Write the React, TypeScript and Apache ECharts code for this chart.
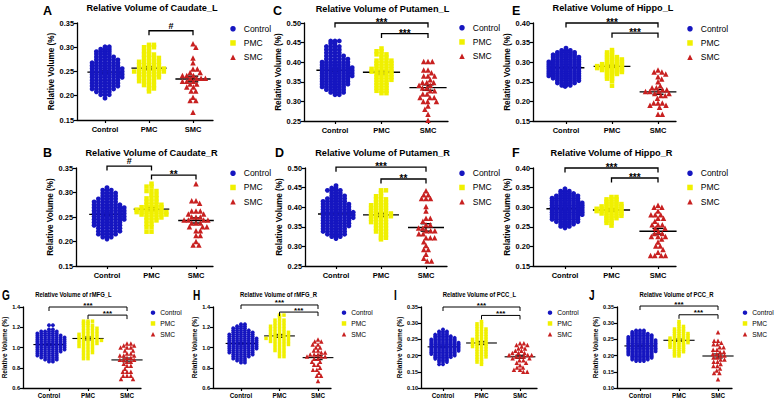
import React, { useEffect, useRef } from "react";
import * as echarts from "echarts";

const GROUPS = ["Control", "PMC", "SMC"];
const COLORS = ["#1616c0", "#f0f000", "#c82020"];
const SYMBOLS = ["circle", "rect", "triangle"];
const FONT = "Liberation Sans, Arial, sans-serif";
const YNAME = "Relative Volume (%)";

// rows of [value, count]
const caudateL_control = [[0.301,2],[0.296,3],[0.291,4],[0.286,4],[0.280,5],[0.274,6],[0.268,7],[0.262,7],[0.256,8],[0.250,8],[0.244,8],[0.238,8],[0.232,7],[0.226,7],[0.220,7],[0.214,6],[0.208,4],[0.202,3],[0.195,1]];
const caudateL_pmc = [[0.305,2],[0.300,3],[0.292,2],[0.285,3],[0.278,4],[0.270,5],[0.263,5],[0.256,6],[0.250,7],[0.244,5],[0.238,5],[0.230,4],[0.222,3],[0.215,2],[0.209,1]];
const caudateL_smc = [[0.307,1],[0.300,1],[0.278,1],[0.268,1],[0.255,2],[0.248,2],[0.242,3],[0.236,4],[0.230,3],[0.224,2],[0.218,2],[0.210,2],[0.197,1],[0.190,2],[0.166,1]];

const caudateR_control = [[0.310,1],[0.305,3],[0.299,4],[0.293,4],[0.287,5],[0.281,6],[0.275,7],[0.269,8],[0.263,8],[0.257,8],[0.251,8],[0.245,8],[0.239,7],[0.233,7],[0.227,6],[0.221,6],[0.215,5],[0.209,3],[0.205,1]];
const caudateR_pmc = [[0.318,1],[0.312,2],[0.303,3],[0.295,2],[0.288,3],[0.281,3],[0.275,4],[0.270,5],[0.265,6],[0.260,7],[0.255,6],[0.249,4],[0.243,3],[0.236,2],[0.229,2],[0.220,2]];
const caudateR_smc = [[0.318,1],[0.283,2],[0.278,1],[0.262,3],[0.256,2],[0.250,3],[0.244,4],[0.238,3],[0.230,3],[0.222,2],[0.212,2],[0.200,1],[0.193,2]];

const putamenL_control = [[0.454,3],[0.448,2],[0.440,4],[0.432,4],[0.424,4],[0.416,5],[0.408,6],[0.400,7],[0.393,7],[0.386,8],[0.379,8],[0.372,8],[0.365,8],[0.358,7],[0.351,7],[0.344,7],[0.337,6],[0.330,5],[0.323,4],[0.317,2]];
const putamenL_pmc = [[0.435,1],[0.428,2],[0.420,3],[0.412,2],[0.404,4],[0.397,4],[0.390,4],[0.383,5],[0.376,5],[0.369,4],[0.362,4],[0.355,4],[0.348,3],[0.341,3],[0.334,3],[0.327,3],[0.321,2]];
const putamenL_smc = [[0.402,3],[0.380,2],[0.373,1],[0.365,3],[0.355,1],[0.348,3],[0.341,2],[0.334,2],[0.327,2],[0.319,2],[0.310,3],[0.300,3],[0.288,1],[0.280,1],[0.267,1],[0.252,1]];

const putamenR_control = [[0.455,1],[0.449,2],[0.443,4],[0.436,3],[0.429,4],[0.422,5],[0.415,6],[0.408,7],[0.401,7],[0.394,7],[0.387,8],[0.380,8],[0.373,8],[0.366,7],[0.359,7],[0.352,7],[0.345,6],[0.338,6],[0.331,5],[0.325,3],[0.320,1]];
const putamenR_pmc = [[0.443,2],[0.436,1],[0.428,2],[0.420,3],[0.412,3],[0.405,4],[0.398,4],[0.391,4],[0.384,5],[0.377,5],[0.370,4],[0.362,4],[0.354,3],[0.346,3],[0.338,3],[0.330,2],[0.322,2],[0.318,1]];
const putamenR_smc = [[0.442,1],[0.432,2],[0.422,3],[0.402,1],[0.390,1],[0.372,2],[0.364,1],[0.355,2],[0.347,2],[0.340,3],[0.332,2],[0.322,3],[0.312,1],[0.302,1],[0.292,2],[0.280,1],[0.270,1],[0.263,2]];

const hippoL_control = [[0.336,1],[0.330,3],[0.325,5],[0.319,6],[0.313,7],[0.307,7],[0.301,8],[0.295,8],[0.289,8],[0.283,8],[0.277,8],[0.271,8],[0.265,8],[0.259,7],[0.253,6],[0.247,5],[0.241,3],[0.238,1]];
const hippoL_pmc = [[0.331,1],[0.325,2],[0.319,2],[0.313,3],[0.307,4],[0.301,4],[0.295,5],[0.290,6],[0.285,6],[0.280,5],[0.275,4],[0.270,3],[0.264,2],[0.258,2],[0.252,1],[0.240,1]];
const hippoL_smc = [[0.280,1],[0.275,2],[0.270,1],[0.263,1],[0.257,1],[0.250,1],[0.240,1],[0.235,2],[0.230,2],[0.225,3],[0.220,2],[0.215,2],[0.208,1],[0.196,3],[0.190,2],[0.185,1],[0.167,2]];

const hippoR_control = [[0.347,1],[0.341,3],[0.335,4],[0.329,6],[0.323,7],[0.317,7],[0.311,8],[0.305,8],[0.299,8],[0.293,8],[0.287,8],[0.281,8],[0.275,7],[0.269,7],[0.263,6],[0.257,4],[0.251,3],[0.247,1]];
const hippoR_pmc = [[0.326,2],[0.320,3],[0.314,3],[0.308,4],[0.302,5],[0.296,6],[0.290,6],[0.284,5],[0.278,4],[0.272,3],[0.266,2],[0.260,2],[0.253,1]];
const hippoR_smc = [[0.305,1],[0.300,2],[0.290,1],[0.281,3],[0.272,2],[0.264,1],[0.255,3],[0.246,2],[0.238,1],[0.233,2],[0.225,3],[0.219,1],[0.211,1],[0.201,2],[0.192,1],[0.185,1],[0.177,4]];

const rmfgL_control = [[1.22,2],[1.18,2],[1.16,5],[1.14,6],[1.12,7],[1.10,8],[1.08,8],[1.06,8],[1.04,8],[1.02,8],[1.00,8],[0.98,8],[0.96,7],[0.94,6],[0.92,6],[0.90,5],[0.88,4],[0.86,2]];
const rmfgL_pmc = [[1.26,3],[1.24,2],[1.22,3],[1.19,4],[1.16,4],[1.13,5],[1.10,5],[1.07,6],[1.04,5],[1.01,4],[0.98,3],[0.95,3],[0.92,2],[0.89,2]];
const rmfgL_smc = [[1.04,2],[1.02,2],[1.00,3],[0.97,2],[0.94,2],[0.92,3],[0.90,2],[0.88,3],[0.86,2],[0.84,1],[0.82,2],[0.79,1],[0.76,3],[0.72,3],[0.69,2]];

const rmfgR_control = [[1.23,2],[1.21,3],[1.19,4],[1.17,5],[1.15,6],[1.13,7],[1.11,7],[1.09,8],[1.07,8],[1.05,8],[1.03,8],[1.01,8],[0.99,8],[0.97,7],[0.95,7],[0.93,6],[0.91,5],[0.89,4],[0.87,3],[0.85,2]];
const rmfgR_pmc = [[1.32,2],[1.30,1],[1.27,3],[1.24,3],[1.21,4],[1.18,4],[1.15,5],[1.12,5],[1.09,6],[1.06,5],[1.03,4],[1.00,3],[0.97,3],[0.94,2],[0.91,2]];
const rmfgR_smc = [[1.08,1],[1.06,2],[1.03,2],[1.00,2],[0.97,2],[0.95,2],[0.93,3],[0.91,3],[0.89,2],[0.86,2],[0.83,2],[0.80,1],[0.78,2],[0.75,1],[0.72,2],[0.67,1]];

const pccL_control = [[0.281,1],[0.275,3],[0.270,3],[0.265,4],[0.260,5],[0.255,6],[0.250,7],[0.245,7],[0.240,8],[0.235,8],[0.230,8],[0.225,8],[0.220,8],[0.215,8],[0.210,7],[0.205,7],[0.200,6],[0.195,5],[0.190,4],[0.185,3],[0.180,3],[0.173,2]];
const pccL_pmc = [[0.305,1],[0.298,2],[0.290,2],[0.282,3],[0.274,3],[0.266,3],[0.258,3],[0.250,4],[0.242,4],[0.235,4],[0.228,4],[0.220,3],[0.212,3],[0.204,3],[0.196,3],[0.188,2],[0.180,2],[0.173,1]];
const pccL_smc = [[0.238,2],[0.233,2],[0.228,1],[0.222,2],[0.215,2],[0.208,3],[0.202,3],[0.197,3],[0.192,2],[0.186,2],[0.178,2],[0.170,1],[0.163,2],[0.156,2],[0.150,2]];

const pccR_control = [[0.278,3],[0.273,4],[0.268,5],[0.263,6],[0.258,7],[0.253,7],[0.248,8],[0.243,8],[0.238,8],[0.233,8],[0.228,8],[0.223,8],[0.218,8],[0.213,8],[0.208,7],[0.203,7],[0.198,6],[0.193,6],[0.188,5],[0.183,3]];
const pccR_pmc = [[0.305,1],[0.298,1],[0.290,2],[0.282,3],[0.275,3],[0.268,4],[0.261,4],[0.254,5],[0.247,5],[0.240,5],[0.233,4],[0.226,4],[0.219,3],[0.212,3],[0.205,2],[0.199,2]];
const pccR_smc = [[0.272,1],[0.246,2],[0.240,1],[0.235,2],[0.226,2],[0.218,2],[0.211,2],[0.205,2],[0.200,2],[0.194,2],[0.188,2],[0.181,2],[0.174,1],[0.168,2],[0.160,1],[0.154,1],[0.146,2],[0.127,1]];

// significance brackets: [fromGroup, toGroup, yValue, label]
const caudateL_sig = [[1, 2, 0.334, "#"]];
const caudateR_sig = [[0, 1, 0.354, "#"], [1, 2, 0.3355, "**"]];
const putamenL_sig = [[0, 2, 0.50, "***"], [1, 2, 0.473, "***"]];
const putamenR_sig = [[0, 2, 0.502, "***"], [1, 2, 0.472, "**"]];
const hippoL_sig = [[0, 2, 0.40, "***"], [1, 2, 0.374, "***"]];
const hippoR_sig = [[0, 2, 0.40, "***"], [1, 2, 0.3745, "***"]];
const rmfgL_sig = [[0, 2, 1.40, "***"], [1, 2, 1.32, "***"]];
const rmfgR_sig = [[0, 2, 1.42, "***"], [1, 2, 1.35, "***"]];
const pccL_sig = [[0, 2, 0.35, "***"], [1, 2, 0.324, "***"]];
const pccR_sig = [[0, 2, 0.353, "***"], [1, 2, 0.326, "***"]];

const PANELS = [
  { letter: "A", title: "Relative Volume of Caudate_L", groups: [caudateL_control, caudateL_pmc, caudateL_smc], sig: caudateL_sig, ymin: 0.15, ymax: 0.35, step: 0.05, dec: 2 },
  { letter: "B", title: "Relative Volume of Caudate_R", groups: [caudateR_control, caudateR_pmc, caudateR_smc], sig: caudateR_sig, ymin: 0.15, ymax: 0.35, step: 0.05, dec: 2 },
  { letter: "C", title: "Relative Volume of Putamen_L", groups: [putamenL_control, putamenL_pmc, putamenL_smc], sig: putamenL_sig, ymin: 0.25, ymax: 0.5, step: 0.05, dec: 2 },
  { letter: "D", title: "Relative Volume of Putamen_R", groups: [putamenR_control, putamenR_pmc, putamenR_smc], sig: putamenR_sig, ymin: 0.25, ymax: 0.5, step: 0.05, dec: 2 },
  { letter: "E", title: "Relative Volume of Hippo_L", groups: [hippoL_control, hippoL_pmc, hippoL_smc], sig: hippoL_sig, ymin: 0.15, ymax: 0.4, step: 0.05, dec: 2 },
  { letter: "F", title: "Relative Volume of Hippo_R", groups: [hippoR_control, hippoR_pmc, hippoR_smc], sig: hippoR_sig, ymin: 0.15, ymax: 0.4, step: 0.05, dec: 2 },
  { letter: "G", title: "Relative Volume of rMFG_L", groups: [rmfgL_control, rmfgL_pmc, rmfgL_smc], sig: rmfgL_sig, ymin: 0.6, ymax: 1.4, step: 0.2, dec: 1 },
  { letter: "H", title: "Relative Volume of rMFG_R", groups: [rmfgR_control, rmfgR_pmc, rmfgR_smc], sig: rmfgR_sig, ymin: 0.6, ymax: 1.4, step: 0.2, dec: 1 },
  { letter: "I", title: "Relative Volume of PCC_L", groups: [pccL_control, pccL_pmc, pccL_smc], sig: pccL_sig, ymin: 0.1, ymax: 0.35, step: 0.05, dec: 2 },
  { letter: "J", title: "Relative Volume of PCC_R", groups: [pccR_control, pccR_pmc, pccR_smc], sig: pccR_sig, ymin: 0.1, ymax: 0.35, step: 0.05, dec: 2 },
];

// layout (pixels)
const LAYOUT = [
  { left: 77, top: 23, w: 136, h: 97, cx: 105, sp: 44, titleX: 152, titleY: 7.5, letterX: 43, letterY: 11, legX: 233, legY: 29, small: false },
  { left: 76, top: 168, w: 137, h: 98, cx: 107, sp: 44.5, titleX: 151.5, titleY: 152.5, letterX: 43, letterY: 153, legX: 233, legY: 173.5, small: false },
  { left: 304, top: 23, w: 144, h: 98, cx: 335, sp: 46.5, titleX: 382.5, titleY: 9, letterX: 273, letterY: 11, legX: 462, legY: 28, small: false },
  { left: 305, top: 168, w: 142, h: 98, cx: 336, sp: 45, titleX: 382.5, titleY: 152.5, letterX: 275, letterY: 153, legX: 462, legY: 173.5, small: false },
  { left: 533, top: 23, w: 143, h: 98, cx: 566, sp: 46, titleX: 613, titleY: 7.5, letterX: 512, letterY: 11, legX: 690, legY: 29, small: false },
  { left: 533, top: 168, w: 143, h: 98, cx: 565, sp: 46.5, titleX: 611.5, titleY: 152.5, letterX: 512, letterY: 153, legX: 690, legY: 173.5, small: false },
  { left: 23, top: 307, w: 118, h: 81, cx: 49, sp: 39, titleX: 73.5, titleY: 294.5, letterX: 2, letterY: 295.5, legX: 153, legY: 313, small: true },
  { left: 213, top: 307, w: 118, h: 81, cx: 241, sp: 38.5, titleX: 278.5, titleY: 294.5, letterX: 193, letterY: 295.5, legX: 344, legY: 313, small: true },
  { left: 421, top: 307, w: 116, h: 81, cx: 443, sp: 38.5, titleX: 479.5, titleY: 294.5, letterX: 394, letterY: 295.5, legX: 550, legY: 313, small: true },
  { left: 617, top: 307, w: 115, h: 81, cx: 640, sp: 39, titleX: 676.5, titleY: 294.5, letterX: 589, letterY: 295.5, legX: 745, legY: 313, small: true },
];

function expand(rows: number[][]): number[] {
  const out: number[] = [];
  rows.forEach(([v, n]) => { for (let k = 0; k < n; k++) out.push(v); });
  return out;
}

// beeswarm layout (elliptical collision): returns horizontal pixel offsets
function swarm(values: number[], pxPerUnit: number, dX: number, dY: number): number[] {
  const order = values.map((_, i) => i).sort((a, b) => values[b] - values[a]);
  const placed: { x: number; y: number }[] = [];
  const offs = new Array(values.length).fill(0);
  let flip = 1;
  for (const i of order) {
    const y = values[i] * pxPerUnit;
    const iv: [number, number][] = [];
    for (const p of placed) {
      const dy = Math.abs(p.y - y);
      if (dy < dY) {
        const dx = dX * Math.sqrt(1 - (dy / dY) * (dy / dY));
        iv.push([p.x - dx, p.x + dx]);
      }
    }
    const cands = [0];
    iv.forEach(([a, b]) => cands.push(a, b));
    cands.sort((a, b) => {
      const d = Math.abs(a) - Math.abs(b);
      if (Math.abs(d) > 1e-6) return d;
      return flip * (a - b);
    });
    let chosen = 0;
    for (const c of cands) {
      if (iv.every(([a, b]) => c <= a + 1e-6 || c >= b - 1e-6)) { chosen = c; break; }
    }
    flip = -flip;
    placed.push({ x: chosen, y });
    offs[i] = chosen;
  }
  return offs;
}

function buildOption() {
  const grid: any[] = [], xAxis: any[] = [], yAxis: any[] = [], series: any[] = [], legend: any[] = [], graphic: any[] = [];
  PANELS.forEach((p, i) => {
    const L = LAYOUT[i];
    const sm = L.small;
    const tickFs = sm ? 5.6 : 7.4;
    const catFs = sm ? 6.3 : 7.5;
    const nameFs = sm ? 6.5 : 8.2;
    grid.push({ left: L.left, top: L.top, width: L.w, height: L.h });
    const xmin = -(L.cx - L.left) / L.sp;
    const xmax = xmin + L.w / L.sp;
    xAxis.push({
      gridIndex: i, type: "value", min: xmin, max: xmax,
      axisLine: { show: true, onZero: false, lineStyle: { color: "#000", width: 1.3 } },
      axisTick: { show: true, customValues: [0, 1, 2], length: 3, lineStyle: { color: "#000", width: 1.2 } },
      axisLabel: { show: true, customValues: [0, 1, 2], formatter: (v: number) => GROUPS[Math.round(v)], color: "#000", fontWeight: "bold", fontSize: catFs, fontFamily: FONT, margin: sm ? 4 : 5 },
      splitLine: { show: false },
    });
    yAxis.push({
      gridIndex: i, type: "value", min: p.ymin, max: p.ymax, interval: p.step,
      axisLine: { show: true, onZero: false, lineStyle: { color: "#000", width: 1.3 } },
      axisTick: { show: true, length: 3, lineStyle: { color: "#000", width: 1.2 } },
      axisLabel: { color: "#000", fontWeight: "bold", fontSize: tickFs, fontFamily: FONT, margin: 3, formatter: (v: number) => v.toFixed(p.dec) },
      splitLine: { show: false },
      name: YNAME, nameLocation: "middle", nameGap: sm ? 12 : 19,
      nameTextStyle: { color: "#000", fontWeight: "bold", fontSize: nameFs, fontFamily: FONT },
    });
    const pxY = L.h / (p.ymax - p.ymin);
    const dX = sm ? 3.9 : 4.3;
    const stats: number[][] = [];
    p.groups.forEach((rows, g) => {
      const vals = expand(rows as number[][]);
      // dense groups: rows spread sideways only; sparse SMC group: full beeswarm
      const dY = g === 2 ? (sm ? 3.6 : 4.6) : 1.2;
      const offs = swarm(vals, pxY, g === 1 ? dX * 1.15 : dX, dY);
      const n = vals.length;
      const mean = vals.reduce((a, b) => a + b, 0) / n;
      const sd = Math.sqrt(vals.reduce((a, b) => a + (b - mean) * (b - mean), 0) / (n - 1));
      stats.push([g, mean, sd / Math.sqrt(n)]);
      const size = g === 2 ? (sm ? 4.5 : 5.5) : (sm ? 3.8 : 4.8);
      series.push({
        type: "scatter", name: GROUPS[g], xAxisIndex: i, yAxisIndex: i,
        symbol: SYMBOLS[g], symbolSize: g === 1 ? size - 0.3 : size,
        itemStyle: { color: COLORS[g], opacity: 1 },
        silent: true, z: 3,
        data: vals.map((v, k) => [g + offs[k] / L.sp, v]),
      });
    });
    // mean ± SEM, drawn beneath the points
    series.push({
      type: "custom", xAxisIndex: i, yAxisIndex: i, silent: true, z: 2, clip: false,
      dimensions: ["g", "m", "s"], encode: { x: 0, y: 1 },
      data: stats,
      renderItem: (params: any, api: any) => {
        const g = api.value(0), m = api.value(1), s = api.value(2);
        const c = api.coord([g, m]);
        const t = api.coord([g, m + s]);
        const b = api.coord([g, m - s]);
        const hw = api.size([0.4, 0])[0];
        const cw = api.size([0.12, 0])[0];
        const st = { stroke: "#000", lineWidth: sm ? 1.1 : 1.4 };
        return {
          type: "group", children: [
            { type: "line", shape: { x1: c[0] - hw, y1: c[1], x2: c[0] + hw, y2: c[1] }, style: st },
            { type: "line", shape: { x1: c[0], y1: t[1], x2: c[0], y2: b[1] }, style: st },
            { type: "line", shape: { x1: c[0] - cw, y1: t[1], x2: c[0] + cw, y2: t[1] }, style: st },
            { type: "line", shape: { x1: c[0] - cw, y1: b[1], x2: c[0] + cw, y2: b[1] }, style: st },
          ],
        };
      },
    });
    const sig = p.sig;
    series.push({
      type: "custom", xAxisIndex: i, yAxisIndex: i, silent: true, z: 4, clip: false,
      dimensions: ["a", "b", "y"], encode: { x: [0, 1], y: 2 },
      data: sig.map((s) => [s[0], s[1], s[2]]),
      renderItem: (params: any, api: any) => {
        const a = api.coord([api.value(0), api.value(2)]);
        const b = api.coord([api.value(1), api.value(2)]);
        const label = sig[params.dataIndex][3] as string;
        const tip = sm ? 4 : 4.5;
        const star = label.indexOf("*") >= 0;
        const fs = star ? (sm ? 8 : 10) : 9;
        const ty = star ? a[1] - (sm ? 2 : 0.5) : a[1] - 5;
        return {
          type: "group", children: [
            { type: "polyline", shape: { points: [[a[0], a[1] + tip], [a[0], a[1]], [b[0], b[1]], [b[0], b[1] + tip]] }, style: { stroke: "#000", lineWidth: sm ? 1 : 1.3, fill: null } },
            { type: "text", x: (a[0] + b[0]) / 2, y: ty, style: { text: label, fill: "#000", font: `bold ${fs}px ${FONT}`, align: "center", verticalAlign: "middle" } },
          ],
        };
      },
    });
    const lfs = sm ? 6.7 : 8.5;
    const icon = sm ? 4.5 : 5.5;
    legend.push({
      orient: "vertical", left: L.legX - icon / 2, top: L.legY - lfs / 2 - 0.5,
      itemWidth: icon, itemHeight: icon, itemGap: sm ? 10.5 - lfs : 13.7 - lfs, padding: 0,
      selectedMode: false,
      textStyle: { color: "#000", fontSize: lfs, fontFamily: FONT, padding: [0, 0, 0, sm ? 0 : 3] },
      data: GROUPS.map((g, k) => ({ name: g, icon: SYMBOLS[k] })),
    });
    graphic.push({
      type: "text", x: L.titleX, y: L.titleY, scaleX: sm ? 0.8 : 1, silent: true,
      style: { text: p.title, fill: "#000", font: `bold ${sm ? 7.4 : 9.2}px ${FONT}`, align: "center", verticalAlign: "middle" },
    });
    graphic.push({
      type: "text", x: L.letterX, y: L.letterY, scaleX: sm ? 0.72 : 1, silent: true,
      style: { text: p.letter, fill: "#000", font: `bold ${sm ? 14 : 12.5}px ${FONT}`, align: "left", verticalAlign: "middle" },
    });
  });
  return { animation: false, backgroundColor: "#fff", grid, xAxis, yAxis, series, legend, graphic };
}

export default function App() {
  const ref = useRef<HTMLDivElement>(null);
  useEffect(() => {
    const chart = echarts.init(ref.current as HTMLDivElement, null, { renderer: "svg" });
    chart.setOption(buildOption() as any);
    return () => chart.dispose();
  }, []);
  return <div ref={ref} style={{ position: "absolute", left: 0, top: 0, width: 778, height: 403 }} />;
}
